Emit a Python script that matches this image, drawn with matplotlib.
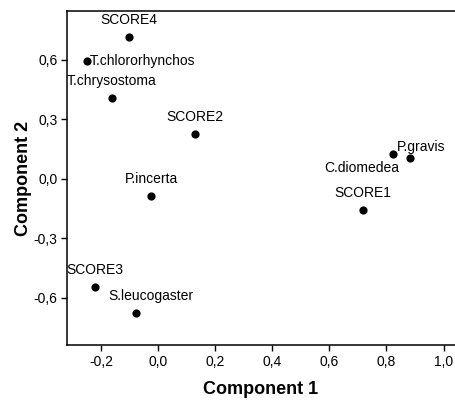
import matplotlib

matplotlib.use("Agg")
import matplotlib.pyplot as plt
from matplotlib.ticker import FuncFormatter

plt.rcParams["font.family"] = ["Liberation Sans", "DejaVu Sans"]

# component loadings / scores
labels = ["SCORE4", "T.chlororhynchos", "T.chrysostoma", "SCORE2", "P.incerta",
          "C.diomedea", "P.gravis", "SCORE1", "SCORE3", "S.leucogaster"]
comp1 = [-0.101, -0.248, -0.161, 0.129, -0.024, 0.822, 0.881, 0.717, -0.220, -0.077]
comp2 = [0.716, 0.595, 0.408, 0.227, -0.086, 0.126, 0.106, -0.156, -0.545, -0.676]

xticks = [-0.2, 0.0, 0.2, 0.4, 0.6, 0.8, 1.0]
yticks = [-0.6, -0.3, 0.0, 0.3, 0.6]

# label offsets in points (dx, dy, ha, va)
offsets = {
    "SCORE4": (0, 7, "center", "bottom"),
    "T.chlororhynchos": (2, 0, "left", "center"),
    "T.chrysostoma": (0, 7, "center", "bottom"),
    "SCORE2": (0, 7, "center", "bottom"),
    "P.incerta": (0, 7, "center", "bottom"),
    "C.diomedea": (-22, -5, "center", "top"),
    "P.gravis": (-9, 3, "left", "bottom"),
    "SCORE1": (0, 7, "center", "bottom"),
    "SCORE3": (0, 7, "center", "bottom"),
    "S.leucogaster": (11, 7, "center", "bottom"),
}


def comma(v, _pos):
    return f"{v:.1f}".replace(".", ",")


fig = plt.figure(figsize=(4.55, 4.01), dpi=100)
ax = fig.add_axes([67 / 455, 56 / 401, 388 / 455, 334 / 401])

ax.scatter(comp1, comp2, s=24, color="black", zorder=3)
for name, x, y in zip(labels, comp1, comp2):
    dx, dy, ha, va = offsets[name]
    ax.annotate(name, (x, y), xytext=(dx, dy), textcoords="offset points",
                ha=ha, va=va, fontsize=10)

ax.set_xlim(-0.319, 1.04)
ax.set_ylim(-0.837, 0.847)
ax.set_xticks(xticks)
ax.set_yticks(yticks)
ax.xaxis.set_major_formatter(FuncFormatter(comma))
ax.yaxis.set_major_formatter(FuncFormatter(comma))
ax.tick_params(direction="out", length=4, width=1, labelsize=10, pad=3)
ax.spines["right"].set_visible(False)
for side in ("left", "bottom", "top"):
    ax.spines[side].set_linewidth(1.1)

ax.set_xlabel("Component 1", fontsize=13, fontweight="bold", labelpad=9)
ax.set_ylabel("Component 2", fontsize=13, fontweight="bold", labelpad=1)

fig.savefig("out.png", dpi=100)
